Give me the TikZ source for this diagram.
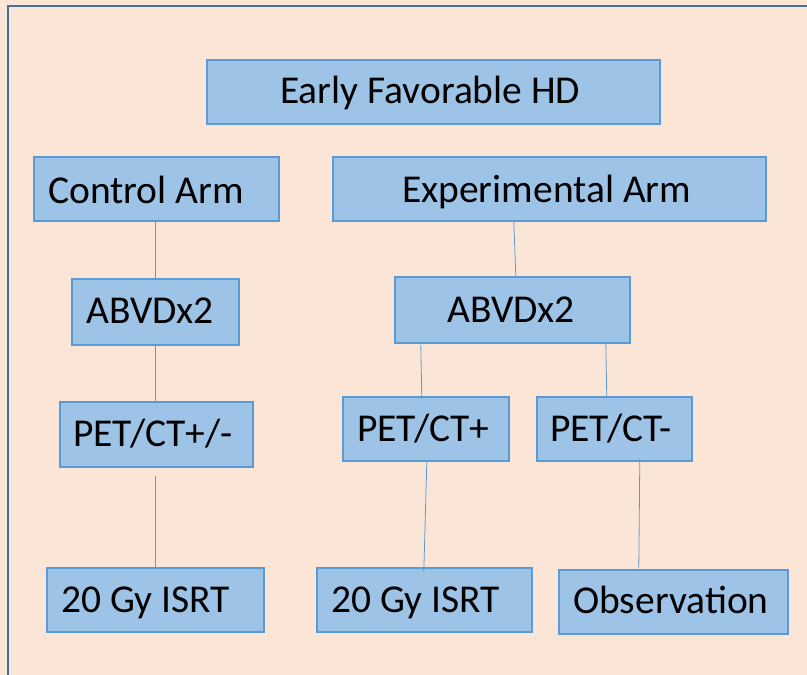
\documentclass[tikz,border=0pt]{standalone}
\usepackage{fontspec}
\setmainfont{Carlito}
\definecolor{pagebg}{HTML}{FBE5D6}
\definecolor{framecol}{HTML}{41719C}
\definecolor{boxfill}{HTML}{9DC3E6}
\definecolor{boxline}{HTML}{5B9BD5}
\tikzset{
  stagebox/.style={draw=boxline, line width=1.6pt, fill=boxfill, rectangle,
    anchor=north west, inner sep=0pt},
  caption/.style={anchor=base west, inner sep=0pt, font=\fontsize{39.5}{47}\selectfont},
  link/.style={draw=boxline, line width=0.8pt}
}
% \stagebox{name}{x1}{y1}{x2}{y2}: box from top-left to bottom-right corner
\newcommand{\stagebox}[5]{%
  \node[stagebox, minimum width={(#4-#2)*1pt}, minimum height={(#5-#3)*1pt}]
    (#1) at (#2,#3) {};}
\begin{document}
\begin{tikzpicture}[x=1pt, y=-1pt]
  \useasboundingbox (0,0) rectangle (807,675);
  \begin{scope}
    \clip (0,0) rectangle (807,675);
    \fill[pagebg] (0,0) rectangle (807,675);
    \draw[framecol, line width=2.4pt] (8,6) rectangle (830,700);
  \end{scope}

  % boxes
  \stagebox{hd}{206}{59}{659}{123}
  \stagebox{ctrl}{33}{156}{278}{220}
  \stagebox{exp}{332}{156}{765}{220}
  \stagebox{abl}{71}{278}{238}{344}
  \stagebox{abr}{394}{276}{629}{342}
  \stagebox{petpm}{59}{401}{252}{466}
  \stagebox{petp}{342}{396}{508}{460}
  \stagebox{petm}{536}{396}{691}{460}
  \stagebox{rtl}{46}{567}{263}{631}
  \stagebox{rtr}{316}{567}{531}{631}
  \stagebox{obs}{558}{569}{787}{633}

  % labels
  \node[caption] (thd)   at (280,103) {Early Favorable HD};
  \node[caption] (tctrl) at (48,203)  {Control Arm};
  \node[caption] (texp)  at (402,202) {Experimental Arm};
  \node[caption] (tabl)  at (86,323)  {ABVDx2};
  \node[caption] (tabr)  at (447,322) {ABVDx2};
  \node[caption] (tpetpm) at (73,446) {PET/CT+/-};
  \node[caption] (tpetp) at (357,441) {PET/CT+};
  \node[caption] (tpetm) at (550,441) {PET/CT-};
  \node[caption] (trtl)  at (61,612)  {20 Gy ISRT};
  \node[caption] (trtr)  at (331,612) {20 Gy ISRT};
  \node[caption] (tobs)  at (573,613) {Observation};

  % connectors
  \draw[link] ([xshift=-0.5pt]ctrl.south) -- ([xshift=0.5pt]abl.north);
  \draw[link] ([xshift=0.5pt]abl.south) -- ([xshift=-0.5pt]petpm.north);
  \draw[link] ([xshift=-0.5pt,yshift=-8pt]petpm.south) -- ([xshift=0.5pt]rtl.north);
  \draw[link] ([xshift=-35.5pt]exp.south) -- ([xshift=3.5pt]abr.north);
  \draw[link] ([xshift=-91.5pt,yshift=-1pt]abr.south) -- ([xshift=-4pt,yshift=-3pt]petp.north);
  \draw[link] ([xshift=93.5pt,yshift=1pt]abr.south) -- ([xshift=-7.5pt,yshift=-2pt]petm.north);
  \draw[link] ([xshift=1pt]petp.south) -- ([xshift=-0.5pt,yshift=-5pt]rtr.north);
  \draw[link] ([xshift=25.5pt,yshift=3pt]petm.south) -- ([xshift=-34.5pt,yshift=1pt]obs.north);
\end{tikzpicture}
\end{document}
